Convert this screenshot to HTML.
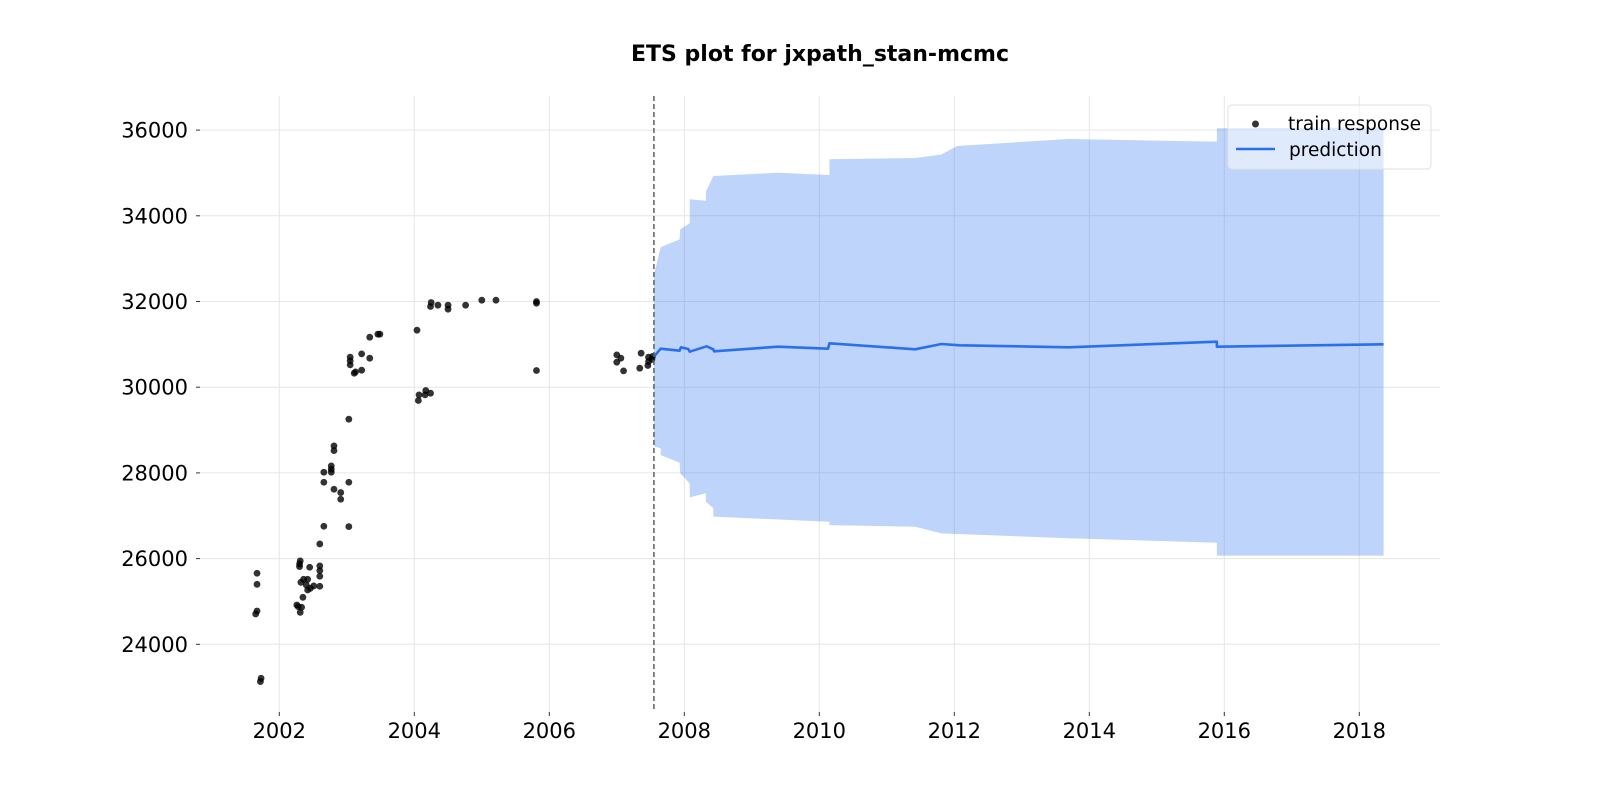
<!DOCTYPE html>
<html><head><meta charset="utf-8"><style>
html,body{margin:0;padding:0;background:#fff;}
svg{display:block;font-family:"DejaVu Sans","Liberation Sans",sans-serif;}
</style></head><body>
<svg id="chart" width="1600" height="800" viewBox="0 0 1600 800" xmlns="http://www.w3.org/2000/svg">
<text x="820" y="61" text-anchor="middle" font-size="22" font-weight="bold" fill="#000">ETS plot for jxpath_stan-mcmc</text>
<g id="grid"></g>
<g id="band"></g>
<g id="points"></g>
<g id="line"></g>
<g id="axes"></g>
<g>
<rect x="1228" y="105" width="203" height="64" rx="4" fill="rgba(255,255,255,0.5)" stroke="#e0e0e0" stroke-width="1"/>
<circle cx="1255.5" cy="124" r="3.5" fill="rgba(0,0,0,0.8)"/>
<text x="1288" y="130" font-size="18.5" fill="#000">train response</text>
<line x1="1236" y1="149" x2="1275" y2="149" stroke="#2a6ff0" stroke-width="2.5"/>
<text x="1289" y="156" font-size="18.5" fill="#000">prediction</text>
</g>
</svg>
<script>
const trainYears=[2001.67,2001.67,2001.67,2001.65,2001.73,2001.72,2002.31,2002.30,2002.30,2002.45,2002.60,2002.60,2002.60,2002.60,2002.32,2002.36,2002.42,2002.40,2002.42,2002.46,2002.51,2002.35,2002.26,2002.28,2002.33,2002.31,2002.60,2002.66,2003.03,2002.66,2003.03,2002.66,2002.77,2002.77,2002.77,2002.81,2002.91,2002.91,2002.81,2002.81,2003.03,2003.05,2003.05,2003.05,2003.11,2003.13,2003.22,2003.22,2003.34,2003.34,2003.46,2003.49,2004.04,2004.06,2004.07,2004.17,2004.24,2004.16,2004.25,2004.24,2004.35,2004.50,2004.50,2004.76,2005.00,2005.21,2005.81,2005.81,2005.81,2007.00,2007.06,2007.00,2007.10,2007.36,2007.34,2007.47,2007.47,2007.46,2007.52,2007.53];
const trainValues=[25658,25400,24778,24708,23206,23130,25946,25875,25813,25798,25829,25720,25588,25354,25447,25517,25517,25385,25268,25307,25362,25097,24918,24879,24864,24747,26342,26755,26747,27782,27782,28016,28163,28086,28016,27619,27541,27385,28630,28521,29253,30700,30615,30521,30327,30358,30397,30778,30677,31167,31237,31237,31331,29689,29821,29922,29860,29821,31977,31883,31914,31914,31821,31914,32031,32031,32000,31961,30389,30755,30677,30584,30381,30794,30444,30700,30600,30506,30650,30720];
const predYears=[2007.55,2007.65,2007.93,2007.95,2008.06,2008.08,2008.33,2008.43,2008.44,2009.39,2010.13,2010.15,2011.42,2011.81,2012.08,2013.69,2015.89,2015.89,2018.36];
const predValues=[30712,30898,30852,30931,30891,30829,30954,30884,30838,30945,30898,31024,30884,31008,30978,30931,31062,30946,31001];
const upperYears=[2007.55,2007.58,2007.65,2007.93,2007.94,2008.08,2008.08,2008.32,2008.32,2008.43,2009.39,2010.15,2010.15,2011.42,2011.81,2011.94,2012.04,2013.69,2015.89,2015.89,2018.36];
const upperValues=[32658,32812,33265,33451,33685,33825,34385,34352,34562,34929,35006,34952,35320,35350,35430,35540,35629,35792,35730,36042,36065];
const lowerYears=[2007.55,2007.56,2007.65,2007.65,2007.93,2007.94,2008.08,2008.08,2008.32,2008.32,2008.43,2008.43,2010.15,2010.15,2011.42,2011.81,2013.69,2015.89,2015.89,2018.36];
const lowerValues=[28768,28613,28574,28418,28238,27990,27757,27430,27524,27328,27174,26979,26861,26780,26744,26590,26474,26371,26068,26068];
const xTicks=[2002,2004,2006,2008,2010,2012,2014,2016,2018];
const yTicks=[24000,26000,28000,30000,32000,34000,36000];
const trainEnd=2007.55;

const L=200,R=1440,T=96,B=712;
const X=y=>279.3+(y-2002)*67.5;
const Y=v=>644.3-(v-24000)*0.04285;
const NS='http://www.w3.org/2000/svg';
function mk(tag,attrs,parent){const e=document.createElementNS(NS,tag);for(const k in attrs)e.setAttribute(k,attrs[k]);parent.appendChild(e);return e;}
const grid=document.getElementById('grid'),axes=document.getElementById('axes');
xTicks.forEach(t=>{
  const g=mk('line',{x1:X(t),x2:X(t),y1:T,y2:B,stroke:'#e6e6e6','stroke-width':1},grid);
  
  
  const tk=mk('line',{x1:X(t),x2:X(t),y1:B,y2:B+4,stroke:'#333','stroke-width':1},axes);
  
  
  const tx=mk('text',{x:X(t),y:B+26,'text-anchor':'middle','font-size':21,fill:'#000'},axes);
  
  
  tx.textContent=t;
});
yTicks.forEach(t=>{
  const g=mk('line',{x1:L,x2:R,y1:Y(t),y2:Y(t),stroke:'#e6e6e6','stroke-width':1},grid);
  
  
  const tk=mk('line',{x1:L-4,x2:L,y1:Y(t),y2:Y(t),stroke:'#333','stroke-width':1},axes);
  
  
  const tx=mk('text',{x:L-12,y:Y(t)+7.5,'text-anchor':'end','font-size':21,fill:'#000'},axes);
  
  
  tx.textContent=t;
});
let d='M'+upperYears.map((y,i)=>X(y)+','+Y(upperValues[i])).join(' L');
for(let i=lowerYears.length-1;i>=0;i--)d+=' L'+X(lowerYears[i])+','+Y(lowerValues[i]);
d+=' Z';
const band=mk('path',{d:d,fill:'rgba(42,111,240,0.3)',stroke:'none'},document.getElementById('band'));


const pg=document.getElementById('points');
trainYears.forEach((y,i)=>{
  const c=mk('circle',{cx:X(y),cy:Y(trainValues[i]),r:3.4,fill:'rgba(0,0,0,0.8)'},pg);
  
  
});
const ln=mk('polyline',{points:predYears.map((y,i)=>X(y)+','+Y(predValues[i])).join(' '),fill:'none',stroke:'#2a6ff0','stroke-width':2.6,'stroke-linejoin':'round'},document.getElementById('line'));


const dl=mk('line',{x1:X(trainEnd),x2:X(trainEnd),y1:T,y2:B,stroke:'#555','stroke-width':1.4,'stroke-dasharray':'5,3'},axes);


</script>
</body></html>
